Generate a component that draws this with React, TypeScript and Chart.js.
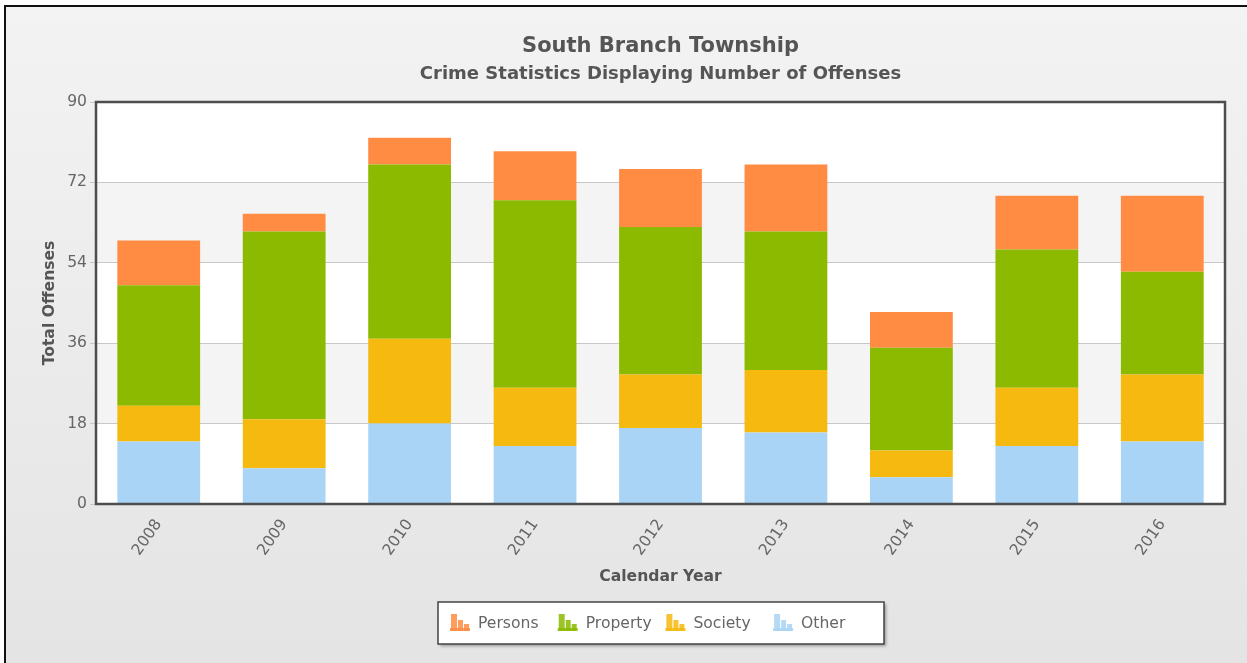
import React, { useEffect, useRef } from 'react';
import { Chart, registerables } from 'chart.js';
Chart.register(...registerables);

const categories = ['2008', '2009', '2010', '2011', '2012', '2013', '2014', '2015', '2016'];
const persons = [10, 4, 6, 11, 13, 15, 8, 12, 17];
const property = [27, 42, 39, 42, 33, 31, 23, 31, 23];
const society = [8, 11, 19, 13, 12, 14, 6, 13, 15];
const other = [14, 8, 18, 13, 17, 16, 6, 13, 14];
const yTicks = [0, 18, 36, 54, 72, 90];

const seriesNames = ['Persons', 'Property', 'Society', 'Other'];
const seriesColors = ['#ff8c42', '#8cba00', '#f6b90f', '#a9d4f5'];

const titleText = 'South Branch Township';
const subtitleText = 'Crime Statistics Displaying Number of Offenses';
const yTitle = 'Total Offenses';
const xTitle = 'Calendar Year';

const FONT = '"DejaVu Sans", "Liberation Sans", sans-serif';

function drawIcon(ctx: CanvasRenderingContext2D, x: number, yb: number, color: string) {
  ctx.fillStyle = color;
  ctx.globalAlpha = 0.85;
  ctx.fillRect(x, yb - 3, 20, 3);
  ctx.fillRect(x + 1, yb - 17, 6, 17);
  ctx.fillRect(x + 8, yb - 11, 5, 11);
  ctx.fillRect(x + 14, yb - 7, 5, 7);
  ctx.globalAlpha = 1;
}

export default function App() {
  const ref = useRef<HTMLCanvasElement>(null);
  useEffect(() => {
    const canvas = ref.current!;
    const decor = {
      id: 'decor',
      beforeDraw(chart: any) {
        const { ctx, width, height, chartArea, scales } = chart;
        ctx.save();
        ctx.fillStyle = '#ffffff';
        ctx.fillRect(0, 0, width, height);
        const g = ctx.createLinearGradient(0, 0, 0, height);
        g.addColorStop(0, '#f3f3f3');
        g.addColorStop(1, '#e4e4e4');
        ctx.fillStyle = g;
        ctx.fillRect(5, 6, width - 5, height - 6);
        ctx.strokeStyle = '#111';
        ctx.lineWidth = 2;
        ctx.beginPath();
        ctx.moveTo(5, height);
        ctx.lineTo(5, 6);
        ctx.lineTo(width, 6);
        ctx.stroke();
        ctx.fillStyle = '#ffffff';
        ctx.fillRect(chartArea.left, chartArea.top, chartArea.right - chartArea.left, chartArea.bottom - chartArea.top);
        const y = scales.y;
        for (let i = 0; i < yTicks.length - 1; i++) {
          if (i % 2 === 1) {
            const t = y.getPixelForValue(yTicks[i + 1]);
            const b = y.getPixelForValue(yTicks[i]);
            ctx.fillStyle = '#f4f4f4';
            ctx.fillRect(chartArea.left, t, chartArea.right - chartArea.left, b - t);
          }
        }
        ctx.restore();
      },
      afterDraw(chart: any) {
        const { ctx, chartArea } = chart;
        const cx = (chartArea.left + chartArea.right) / 2;
        ctx.save();
        ctx.strokeStyle = '#4d4d4d';
        ctx.lineWidth = 2.5;
        ctx.strokeRect(chartArea.left, chartArea.top, chartArea.right - chartArea.left, chartArea.bottom - chartArea.top);
        ctx.fillStyle = '#555555';
        ctx.textAlign = 'center';
        ctx.textBaseline = 'middle';
        ctx.font = `bold 21px ${FONT}`;
        ctx.fillText(titleText, cx, 47);
        ctx.font = `bold 18px ${FONT}`;
        ctx.fillText(subtitleText, cx, 74);
        ctx.font = `bold 15.6px ${FONT}`;
        ctx.fillText(xTitle, cx, 577);
        ctx.save();
        ctx.translate(50, (chartArea.top + chartArea.bottom) / 2);
        ctx.rotate(-Math.PI / 2);
        ctx.fillText(yTitle, 0, 0);
        ctx.restore();
        const bw = 446, bh = 42;
        const bx = Math.round(cx - 223), by = 602;
        ctx.save();
        ctx.shadowColor = 'rgba(0,0,0,0.35)';
        ctx.shadowBlur = 3;
        ctx.shadowOffsetX = 2;
        ctx.shadowOffsetY = 2;
        ctx.fillStyle = '#ffffff';
        ctx.fillRect(bx, by, bw, bh);
        ctx.restore();
        ctx.strokeStyle = '#444';
        ctx.lineWidth = 1.5;
        ctx.strokeRect(bx, by, bw, bh);
        ctx.font = `15.6px ${FONT}`;
        ctx.textAlign = 'left';
        ctx.textBaseline = 'middle';
        const ds = chart.data.datasets;
        const order = [...ds].reverse();
        order.forEach((d: any, i: number) => {
          const ix = bx + 12 + i * 107.7;
          drawIcon(ctx, ix, 631, d.backgroundColor);
          ctx.fillStyle = '#666666';
          ctx.fillText(d.label, ix + 28, 624);
        });
        ctx.restore();
      },
    };
    const chart = new Chart(canvas, {
      type: 'bar',
      data: {
        labels: categories,
        datasets: [
          { label: seriesNames[3], data: other, backgroundColor: seriesColors[3] },
          { label: seriesNames[2], data: society, backgroundColor: seriesColors[2] },
          { label: seriesNames[1], data: property, backgroundColor: seriesColors[1] },
          { label: seriesNames[0], data: persons, backgroundColor: seriesColors[0] },
        ],
      },
      options: {
        animation: false,
        responsive: true,
        maintainAspectRatio: false,
        layout: { padding: { left: 0, right: 22, top: 102, bottom: 0 } },
        datasets: { bar: { categoryPercentage: 1, barPercentage: 0.66, borderWidth: 0 } },
        plugins: { legend: { display: false }, title: { display: false }, tooltip: { enabled: false } },
        scales: {
          x: {
            stacked: true,
            grid: { display: false },
            border: { display: false },
            afterFit: (s: any) => { s.height = 159; },
            ticks: { color: '#666666', font: { family: FONT, size: 15.6 }, maxRotation: 55, minRotation: 55, padding: 4 },
          },
          y: {
            stacked: true,
            min: 0,
            max: 90,
            afterBuildTicks: (s: any) => { s.ticks = yTicks.map((v) => ({ value: v })); },
            afterFit: (s: any) => { s.width = 96; },
            grid: { color: '#c8c8c8', lineWidth: 1, tickLength: 6, drawTicks: true },
            border: { display: false },
            ticks: { color: '#666666', font: { family: FONT, size: 15.6 }, padding: 3 },
          },
        },
      },
      plugins: [decor],
    } as any);
    return () => chart.destroy();
  }, []);
  return (
    <div style={{ position: 'absolute', left: 0, top: 0, width: 1247, height: 663 }}>
      <canvas ref={ref} />
    </div>
  );
}
